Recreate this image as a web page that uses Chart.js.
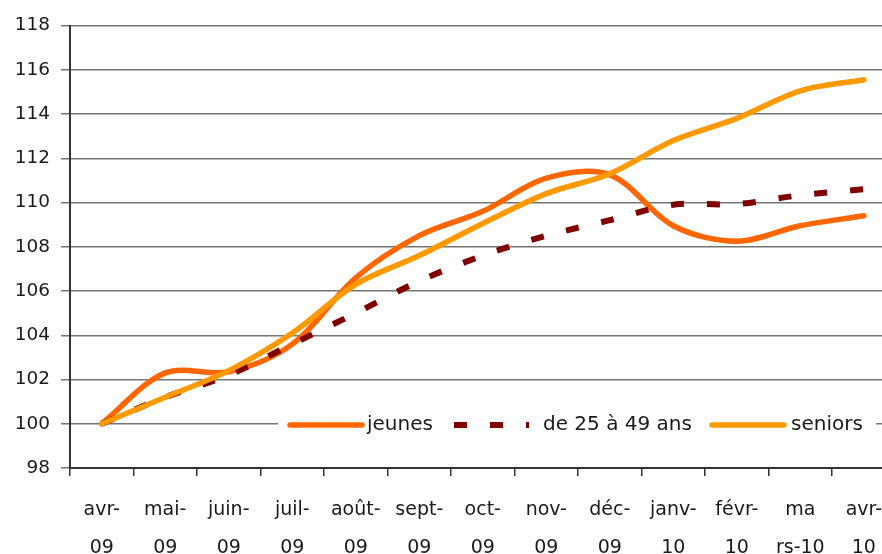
<!DOCTYPE html>
<html>
<head>
<meta charset="utf-8">
<script src="https://cdn.jsdelivr.net/npm/chart.js@4"></script>
<style>
  html, body { margin: 0; padding: 0; background: #fff; overflow: hidden; }
  #wrap { position: relative; width: 898px; height: 554px; }
</style>
</head>
<body>
<div id="wrap"><canvas id="chart"></canvas></div>
<script>
// Demandeurs d'emploi par tranche d'age, indice base 100 en avril 2009

const months = [
  ['avr-', '09'], ['mai-', '09'], ['juin-', '09'], ['juil-', '09'],
  ['août-', '09'], ['sept-', '09'], ['oct-', '09'], ['nov-', '09'],
  ['déc-', '09'], ['janv-', '10'], ['févr-', '10'], ['ma', 'rs-10'], ['avr-', '10']
];
const jeunes  = [100, 102.3, 102.35, 103.6, 106.6, 108.5, 109.6, 111.1, 111.25, 108.95, 108.25, 108.95, 109.4];
const adultes = [100, 101.2, 102.2, 103.6, 105.0, 106.45, 107.6, 108.5, 109.2, 109.9, 109.93, 110.33, 110.6];
const seniors = [100, 101.2, 102.4, 104.1, 106.3, 107.6, 109.05, 110.4, 111.3, 112.8, 113.8, 115.05, 115.55];
const yMin = 98, yMax = 118, yStep = 2;

Chart.defaults.font.family = "'DejaVu Sans', sans-serif";
Chart.defaults.color = '#1a1a1a';

// legende dessinee dans la zone du graphique, sur fond blanc
const insideLegend = {
  id: 'insideLegend',
  afterDraw(chart, args, opts) {
    const ctx = chart.ctx;
    const y = opts.y;
    ctx.save();
    ctx.fillStyle = '#fff';
    ctx.fillRect(opts.box[0], opts.box[1], opts.box[2], opts.box[3]);
    ctx.font = opts.font;
    ctx.textBaseline = 'middle';
    chart.data.datasets.forEach((ds, i) => {
      const it = opts.items[i];
      ctx.beginPath();
      ctx.strokeStyle = ds.borderColor;
      ctx.lineWidth = ds.borderWidth;
      ctx.lineCap = ds.borderCapStyle || 'butt';
      ctx.setLineDash(ds.borderDash || []);
      ctx.moveTo(it.x, y);
      ctx.lineTo(it.x + it.len, y);
      ctx.stroke();
      ctx.setLineDash([]);
      ctx.fillStyle = '#1a1a1a';
      ctx.fillText(ds.label, it.textX, y);
    });
    ctx.restore();
  }
};

new Chart(document.getElementById('chart'), {
  type: 'line',
  data: {
    labels: months,
    datasets: [{
      label: 'jeunes',
      data: jeunes,
      borderColor: '#ff6600',
      borderWidth: 5.5,
      borderCapStyle: 'round',
      order: 2
    }, {
      label: 'de 25 à 49 ans',
      data: adultes,
      borderColor: '#800000',
      borderWidth: 6,
      borderDash: [13, 23],
      borderCapStyle: 'butt',
      order: 1
    }, {
      label: 'seniors',
      data: seniors,
      borderColor: '#ff9900',
      borderWidth: 5.5,
      borderCapStyle: 'round',
      order: 0
    }]
  },
  options: {
    responsive: true,
    maintainAspectRatio: false,
    animation: false,
    elements: {
      point: { radius: 0 },
      line: { tension: 0.33, fill: false }
    },
    layout: { padding: { top: 25.5, right: 0, bottom: 0, left: 0 } },
    plugins: {
      legend: { display: false },
      tooltip: { enabled: false },
      insideLegend: {
        box: [278, 405, 598, 40],
        y: 425,
        font: "20px 'DejaVu Sans', sans-serif",
        items: [
          { x: 290, len: 72, textX: 367 },
          { x: 454, len: 75, textX: 543 },
          { x: 712, len: 72, textX: 791 }
        ]
      }
    },
    scales: {
      x: {
        offset: true,
        afterFit: (scale) => { scale.height = 86; },
        grid: {
          offset: true,
          drawOnChartArea: false,
          drawTicks: true,
          tickLength: 8,
          color: '#333',
          lineWidth: 1.5
        },
        border: { color: '#333', width: 2 },
        ticks: {
          autoSkip: false,
          maxRotation: 0,
          padding: 16,
          font: { size: 19, lineHeight: 1.95 },
          color: '#1a1a1a'
        }
      },
      y: {
        min: yMin,
        max: yMax,
        afterFit: (scale) => { scale.width = 70; },
        grid: {
          color: '#757575',
          lineWidth: 1.5,
          tickLength: 9
        },
        border: { color: '#333', width: 2 },
        ticks: {
          stepSize: yStep,
          padding: 11,
          font: { size: 18.5 },
          color: '#1a1a1a'
        }
      }
    }
  },
  plugins: [insideLegend]
});
</script>
</body>
</html>
